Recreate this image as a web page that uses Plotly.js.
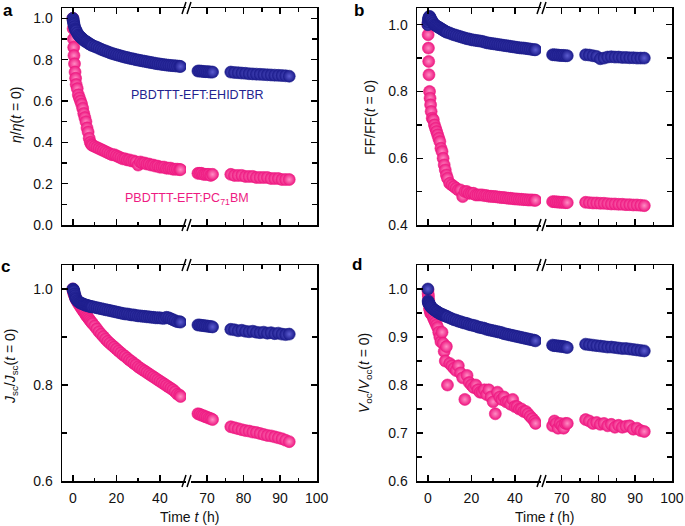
<!DOCTYPE html>
<html>
<head>
<meta charset="utf-8">
<script src="https://cdn.plot.ly/plotly-3.0.1.min.js"></script>
<style>
  html, body { margin: 0; padding: 0; background: #fff; }
  #chart { width: 685px; height: 526px; }
</style>
</head>
<body>
<div id="chart"></div>
<script>
// Tiempos (h): tramo antes del corte del eje y tramo después
const tLeft = [0, 0.125, 0.25, 0.375, 0.5, 0.75, 1, 1.25, 1.5, 2, 2.5, 3, 3.5, 4, 4.5, 5, 5.5, 6, 6.5, 7, 7.5, 8, 8.5, 9,
    10, 11, 12, 13, 14, 15, 16, 17, 18, 19, 20, 21, 22, 23, 24, 25, 26, 27, 28, 29,
    30, 31, 32, 33, 34, 35, 36, 37, 38, 39, 40, 41, 42, 43, 44, 45, 46, 47, 48, 49, 49.5];
const tRight = [67.5, 68, 68.5, 69, 69.5, 70, 70.5, 71, 71.5,
    76.5, 77.5, 78.5, 79.5, 80.5, 81.5, 82.5, 83.5, 84.5, 85.5, 86.5, 87.5, 88.5, 89.5, 90.5, 91.5, 92.5];

// a: eficiencia normalizada
const etaPcbmL = [1.0, 0.95, 0.9, 0.86, 0.82, 0.78, 0.74, 0.71, 0.68, 0.66, 0.63, 0.615, 0.6, 0.585, 0.565, 0.54, 0.52, 0.5, 0.47, 0.45, 0.42, 0.4, 0.39, 0.385,
    0.38, 0.375, 0.37, 0.365, 0.36, 0.355, 0.35, 0.345, 0.34, 0.34, 0.335, 0.33, 0.325, 0.32, 0.32, 0.315, 0.315, 0.31, 0.31, 0.305,
    0.29, 0.305, 0.3, 0.3, 0.295, 0.295, 0.29, 0.29, 0.285, 0.285, 0.28, 0.28, 0.28, 0.275, 0.275, 0.275, 0.27, 0.27, 0.27, 0.268, 0.268];
const etaPcbmR = [0.25, 0.25, 0.25, 0.245, 0.245, 0.245, 0.245, 0.24, 0.245,
    0.245, 0.24, 0.24, 0.24, 0.235, 0.235, 0.235, 0.23, 0.23, 0.23, 0.23, 0.225, 0.225, 0.225, 0.22, 0.22, 0.22];
const etaEhL = [1.0, 0.992, 0.985, 0.977, 0.97, 0.96, 0.95, 0.945, 0.94, 0.93, 0.92, 0.915, 0.91, 0.905, 0.9, 0.895, 0.89, 0.888, 0.885, 0.88, 0.877, 0.874, 0.871, 0.868,
    0.864, 0.86, 0.855, 0.85, 0.846, 0.842, 0.838, 0.834, 0.83, 0.827, 0.824, 0.821, 0.818, 0.815, 0.812, 0.81, 0.807, 0.805, 0.803, 0.8,
    0.798, 0.796, 0.794, 0.792, 0.79, 0.788, 0.786, 0.784, 0.782, 0.78, 0.779, 0.777, 0.776, 0.774, 0.773, 0.772, 0.771, 0.77, 0.769, 0.768, 0.767];
const etaEhR = [0.745, 0.745, 0.744, 0.743, 0.742, 0.742, 0.741, 0.74, 0.74,
    0.74, 0.738, 0.737, 0.735, 0.734, 0.732, 0.731, 0.73, 0.729, 0.728, 0.727, 0.726, 0.725, 0.724, 0.723, 0.722, 0.72];

// b: factor de llenado
const ffPcbmL = [1.0, 0.97, 0.93, 0.89, 0.85, 0.8, 0.78, 0.76, 0.74, 0.72, 0.715, 0.7, 0.69, 0.68, 0.67, 0.66, 0.65, 0.63, 0.62, 0.6, 0.58, 0.565, 0.55, 0.54,
    0.525, 0.52, 0.515, 0.51, 0.505, 0.505, 0.485, 0.5, 0.5, 0.495, 0.495, 0.495, 0.49, 0.49, 0.49, 0.49, 0.488, 0.488, 0.486, 0.486,
    0.485, 0.485, 0.484, 0.483, 0.482, 0.482, 0.481, 0.48, 0.48, 0.479, 0.478, 0.478, 0.477, 0.477, 0.476, 0.476, 0.475, 0.475, 0.475, 0.474, 0.474];
const ffPcbmR = [0.47, 0.47, 0.469, 0.469, 0.468, 0.468, 0.468, 0.467, 0.467,
    0.468, 0.467, 0.466, 0.466, 0.465, 0.465, 0.464, 0.463, 0.463, 0.462, 0.462, 0.461, 0.461, 0.46, 0.46, 0.459, 0.458];
const ffEhL = [1.0, 1.008, 1.015, 1.019, 1.022, 1.025, 1.022, 1.018, 1.015, 1.01, 1.005, 1.0, 0.998, 0.996, 0.994, 0.992, 0.99, 0.988, 0.986, 0.984, 0.982, 0.98, 0.978, 0.977,
    0.975, 0.972, 0.97, 0.968, 0.966, 0.964, 0.962, 0.96, 0.958, 0.957, 0.955, 0.954, 0.953, 0.952, 0.951, 0.95, 0.948, 0.946, 0.945, 0.944,
    0.943, 0.942, 0.941, 0.94, 0.939, 0.938, 0.937, 0.936, 0.935, 0.934, 0.933, 0.932, 0.931, 0.93, 0.93, 0.929, 0.928, 0.927, 0.926, 0.925, 0.925];
const ffEhR = [0.91, 0.91, 0.909, 0.909, 0.908, 0.908, 0.908, 0.907, 0.907,
    0.91, 0.909, 0.907, 0.905, 0.898, 0.9, 0.903, 0.904, 0.903, 0.903, 0.902, 0.902, 0.901, 0.901, 0.9, 0.9, 0.9];

// c: corriente de cortocircuito
const jscPcbmL = [1.0, 0.997, 0.995, 0.992, 0.99, 0.987, 0.984, 0.981, 0.978, 0.974, 0.97, 0.967, 0.963, 0.96, 0.956, 0.953, 0.95, 0.946, 0.943, 0.94, 0.937, 0.934, 0.931, 0.928,
    0.923, 0.917, 0.911, 0.906, 0.901, 0.896, 0.891, 0.887, 0.883, 0.879, 0.875, 0.871, 0.867, 0.863, 0.86, 0.856, 0.852, 0.849, 0.845, 0.842,
    0.838, 0.835, 0.832, 0.829, 0.826, 0.823, 0.82, 0.817, 0.814, 0.811, 0.808, 0.805, 0.802, 0.799, 0.796, 0.793, 0.79, 0.786, 0.781, 0.779, 0.776];
const jscPcbmR = [0.74, 0.739, 0.737, 0.736, 0.734, 0.733, 0.731, 0.73, 0.728,
    0.713, 0.711, 0.709, 0.707, 0.705, 0.704, 0.702, 0.701, 0.699, 0.697, 0.695, 0.694, 0.692, 0.69, 0.688, 0.685, 0.682];
const jscEhL = [1.0, 0.999, 0.998, 0.996, 0.995, 0.99, 0.986, 0.982, 0.979, 0.976, 0.974, 0.972, 0.971, 0.97, 0.969, 0.968, 0.967, 0.966, 0.966, 0.965, 0.964, 0.964, 0.963, 0.963,
    0.962, 0.961, 0.96, 0.959, 0.958, 0.957, 0.956, 0.955, 0.954, 0.953, 0.952, 0.951, 0.95, 0.949, 0.948, 0.948, 0.947, 0.946, 0.946, 0.945,
    0.944, 0.944, 0.943, 0.943, 0.942, 0.942, 0.941, 0.941, 0.94, 0.94, 0.94, 0.939, 0.939, 0.941, 0.94, 0.938, 0.936, 0.934, 0.932, 0.932, 0.931];
const jscEhR = [0.925, 0.925, 0.924, 0.924, 0.923, 0.923, 0.922, 0.922, 0.921,
    0.916, 0.915, 0.913, 0.914, 0.912, 0.911, 0.912, 0.91, 0.909, 0.91, 0.908, 0.909, 0.907, 0.908, 0.906, 0.905, 0.906];

// d: tensión de circuito abierto
const vocPcbmL = [0.998, 0.99, 0.985, 0.977, 0.97, 0.96, 0.955, 0.95, 0.948, 0.946, 0.94, 0.935, 0.93, 0.925, 0.92, 0.91, 0.9, 0.89, 0.91, 0.887, 0.87, 0.85, 0.88, 0.8,
    0.845, 0.84, 0.835, 0.83, 0.84, 0.825, 0.815, 0.77, 0.82, 0.805, 0.8, 0.795, 0.8, 0.79, 0.785, 0.785, 0.79, 0.78, 0.79, 0.775,
    0.765, 0.74, 0.785, 0.775, 0.77, 0.775, 0.765, 0.765, 0.76, 0.77, 0.755, 0.755, 0.75, 0.75, 0.745, 0.745, 0.74, 0.735, 0.73, 0.725, 0.72];
const vocPcbmR = [0.715, 0.725, 0.72, 0.71, 0.72, 0.715, 0.71, 0.72, 0.72,
    0.728, 0.725, 0.72, 0.722, 0.718, 0.72, 0.715, 0.718, 0.712, 0.716, 0.712, 0.714, 0.715, 0.708, 0.71, 0.705, 0.703];
const vocEhL = [1.0, 0.975, 0.972, 0.971, 0.97, 0.968, 0.966, 0.964, 0.962, 0.96, 0.958, 0.956, 0.955, 0.953, 0.952, 0.95, 0.949, 0.948, 0.947, 0.946, 0.945, 0.944, 0.943, 0.942,
    0.94, 0.938, 0.936, 0.935, 0.933, 0.932, 0.93, 0.929, 0.928, 0.926, 0.925, 0.924, 0.923, 0.921, 0.92, 0.919, 0.918, 0.916, 0.915, 0.914,
    0.913, 0.912, 0.911, 0.91, 0.909, 0.907, 0.906, 0.905, 0.904, 0.903, 0.902, 0.901, 0.9, 0.899, 0.898, 0.897, 0.896, 0.895, 0.894, 0.893, 0.892];
const vocEhR = [0.883, 0.882, 0.882, 0.881, 0.881, 0.88, 0.88, 0.879, 0.878,
    0.885, 0.884, 0.883, 0.882, 0.881, 0.88, 0.879, 0.879, 0.878, 0.877, 0.876, 0.876, 0.875, 0.874, 0.873, 0.872, 0.871];

const W = 685, H = 526;
const px = v => v / W;
const py = v => 1 - v / H;
const FONT = 'Liberation Sans, Arial, Helvetica, sans-serif';
const PINK = '#ee1a82', BLUE = '#1c1c8c';

// Posición de cada panel en píxeles
const panels = [
    { x0: 62, xb1: 186, xb2: 191, x1: 317, top: 8, bottom: 225, yRange: [0, 1.05], dtick: 0.2, minor: 0.1,
      rRange: [65.6, 100.1], labels: false, pink: [etaPcbmL, etaPcbmR], blue: [etaEhL, etaEhR] },
    { x0: 417, xb1: 541, xb2: 546, x1: 672, top: 8, bottom: 225, yRange: [0.4, 1.05], dtick: 0.2, minor: 0.1,
      rRange: [65.7, 100.05], labels: false, pink: [ffPcbmL, ffPcbmR], blue: [ffEhL, ffEhR] },
    { x0: 62, xb1: 186, xb2: 191, x1: 317, top: 265, bottom: 481, yRange: [0.6, 1.05], dtick: 0.2, minor: 0.1,
      rRange: [65.6, 100.1], labels: true, pink: [jscPcbmL, jscPcbmR], blue: [jscEhL, jscEhR] },
    { x0: 417, xb1: 541, xb2: 546, x1: 672, top: 265, bottom: 481, yRange: [0.6, 1.05], dtick: 0.1, minor: 0.05,
      rRange: [65.7, 100.05], labels: true, pink: [vocPcbmL, vocPcbmR], blue: [vocEhL, vocEhR] }
];

const tickStyle = { ticks: 'inside', tickwidth: 1.4, tickcolor: '#000' };
const axisBase = {
    showline: true, linecolor: '#000', linewidth: 1.5,
    ticks: 'inside', ticklen: 6, tickwidth: 1.4, tickcolor: '#000',
    showgrid: false, zeroline: false,
    tickfont: { family: FONT, size: 14, color: '#111' }
};

function key(prefix, n) { return n === 1 ? prefix + 'axis' : prefix + 'axis' + n; }
function id(prefix, n) { return n === 1 ? prefix : prefix + n; }

function markerStyle(color, center) {
    return { size: 12, color: color, line: { color: color, width: 0.6 },
             gradient: { type: 'radial', color: center } };
}

const traces = [];
const layout = {
    width: W, height: H,
    margin: { l: 0, r: 0, t: 0, b: 0 },
    paper_bgcolor: '#fff', plot_bgcolor: 'rgba(0,0,0,0)',
    showlegend: false,
    font: { family: FONT, size: 14, color: '#111' },
    annotations: [], shapes: []
};

panels.forEach((p, i) => {
    const nL = 2 * i + 1, nR = 2 * i + 2;
    const yDom = [py(p.bottom), py(p.top)];

    layout[key('x', nL)] = Object.assign({}, axisBase, {
        domain: [px(p.x0), px(p.xb1)], range: [-5, 52], anchor: id('y', nL),
        tickmode: 'array', tickvals: [0, 20, 40], showticklabels: p.labels, mirror: 'ticks',
        ticklabelstandoff: 4,
        minor: Object.assign({ tickmode: 'array', tickvals: [10, 30], ticklen: 3.5 }, tickStyle)
    });
    layout[key('x', nR)] = Object.assign({}, axisBase, {
        domain: [px(p.xb2), px(p.x1)], range: p.rRange, anchor: id('y', nR),
        tickmode: 'array', tickvals: [70, 80, 90, 100], showticklabels: p.labels, mirror: 'ticks',
        ticklabelstandoff: 4,
        minor: Object.assign({ tickmode: 'array', tickvals: [75, 85, 95], ticklen: 3.5 }, tickStyle)
    });
    const yCommon = {
        domain: yDom, range: p.yRange, tickmode: 'linear', tick0: 0, dtick: p.dtick, tickformat: '.1f',
        minor: Object.assign({ tick0: 0, dtick: p.minor, ticklen: 5 }, tickStyle)
    };
    layout[key('y', nL)] = Object.assign({}, axisBase, yCommon, { anchor: id('x', nL), ticklabelstandoff: 5 });
    layout[key('y', nR)] = Object.assign({}, axisBase, yCommon, { anchor: id('x', nR), side: 'right', showticklabels: false });

    // PC71BM primero, EHIDTBR encima
    traces.push({ x: tLeft, y: p.pink[0], xaxis: id('x', nL), yaxis: id('y', nL), type: 'scatter', mode: 'markers',
                  marker: markerStyle(PINK, '#ff8cc4'), hoverinfo: 'skip' });
    traces.push({ x: tRight, y: p.pink[1], xaxis: id('x', nR), yaxis: id('y', nR), type: 'scatter', mode: 'markers',
                  marker: markerStyle(PINK, '#ff8cc4'), hoverinfo: 'skip' });
    traces.push({ x: tLeft, y: p.blue[0], xaxis: id('x', nL), yaxis: id('y', nL), type: 'scatter', mode: 'markers',
                  marker: markerStyle(BLUE, '#5c5cd0'), hoverinfo: 'skip' });
    traces.push({ x: tRight, y: p.blue[1], xaxis: id('x', nR), yaxis: id('y', nR), type: 'scatter', mode: 'markers',
                  marker: markerStyle(BLUE, '#5c5cd0'), hoverinfo: 'skip' });

    // Marcas de corte "//" arriba y abajo
    const bx = (p.xb1 + p.xb2) / 2;
    [p.top, p.bottom].forEach(ay => {
        [-4.5, 0.5].forEach(dx => {
            layout.shapes.push({ type: 'line', xref: 'paper', yref: 'paper',
                x0: px(bx + dx - 2), y0: py(ay + 6), x1: px(bx + dx + 2), y1: py(ay - 6),
                line: { color: '#000', width: 1.5 } });
        });
    });

    if (p.labels) {
        layout.annotations.push({ xref: 'paper', yref: 'paper', x: px((p.x0 + p.x1) / 2), y: py(517),
            text: 'Time <i>t</i> (h)', showarrow: false, xanchor: 'center', yanchor: 'middle',
            font: { family: FONT, size: 14, color: '#111' } });
    }
});

const yTitles = [
    { x: 16, y: 115, text: '<i>η</i>/<i>η</i>(<i>t</i> = 0)' },
    { x: 370, y: 118, text: 'FF/FF(<i>t</i> = 0)' },
    { x: 11, y: 367, text: '<i>J</i><sub>sc</sub>/<i>J</i><sub>sc</sub>(<i>t</i> = 0)' },
    { x: 365, y: 373, text: '<i>V</i><sub>oc</sub>/<i>V</i><sub>oc</sub>(<i>t</i> = 0)' }
];
yTitles.forEach(t => layout.annotations.push({ xref: 'paper', yref: 'paper', x: px(t.x), y: py(t.y),
    text: t.text, textangle: -90, showarrow: false, xanchor: 'center', yanchor: 'middle',
    font: { family: FONT, size: 14, color: '#111' } }));

const letters = [['a', 8, 10], ['b', 359, 10], ['c', 5, 266], ['d', 357, 264]];
letters.forEach(l => layout.annotations.push({ xref: 'paper', yref: 'paper', x: px(l[1]), y: py(l[2]),
    text: '<b>' + l[0] + '</b>', showarrow: false, xanchor: 'center', yanchor: 'middle',
    font: { family: FONT, size: 17, color: '#000' } }));

layout.annotations.push({ xref: 'paper', yref: 'paper', x: px(197), y: py(95), text: 'PBDTTT-EFT:EHIDTBR',
    showarrow: false, xanchor: 'center', yanchor: 'middle', font: { family: FONT, size: 12.5, color: '#23238f' } });
layout.annotations.push({ xref: 'paper', yref: 'paper', x: px(187), y: py(199), text: 'PBDTTT-EFT:PC<sub>71</sub>BM',
    showarrow: false, xanchor: 'center', yanchor: 'middle', font: { family: FONT, size: 12.5, color: '#ee1a82' } });

Plotly.newPlot('chart', traces, layout, { staticPlot: true, displayModeBar: false });
</script>
</body>
</html>
